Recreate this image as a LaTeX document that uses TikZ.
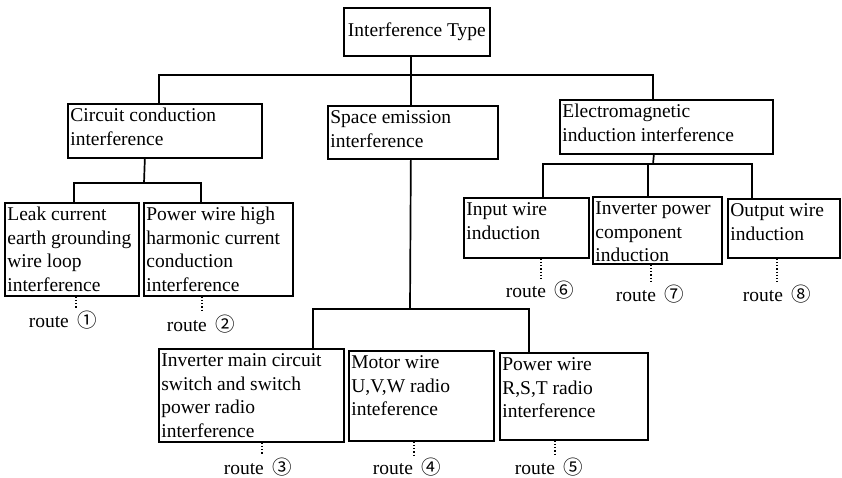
\documentclass[tikz,border=0pt]{standalone}
\usepackage{fontspec}
\setmainfont{Liberation Serif}
\newfontfamily\circfont{Noto Sans CJK SC}
\usetikzlibrary{positioning}
\newcommand{\fsz}{\fontsize{19.5}{23.5}\selectfont}
\newcommand{\boxtext}[3]{\parbox[c][\dimexpr#2pt-3pt][t]{\dimexpr#1pt-5pt}{\raggedright\strut#3}}
\newcommand{\routetext}[1]{route\hspace{0.45em}{\circfont#1}}

\begin{document}
\begin{tikzpicture}[x=1pt,y=-1pt,
box/.style={draw,line width=1.7pt,inner xsep=2.5pt,inner ysep=1.5pt,anchor=north west,font=\fsz},
route/.style={anchor=north,inner sep=0pt,text height=19pt,text depth=1pt,font=\fsz},
link/.style={line width=1.7pt},
dotline/.style={line width=1.5pt,dash pattern=on 1.3pt off 1.9pt}]
\useasboundingbox (0,0) rectangle (842,477);

\node[box,inner sep=0pt,minimum width=146pt,minimum height=48pt] (root) at (343,7) {Interference Type};
\node[box] (cc) at (67,103) {\boxtext{194}{54}{Circuit conduction\\interference}};
\node[box] (se) at (327,105) {\boxtext{170}{53}{Space emission\\interference}};
\node[box] (em) at (559,99) {\boxtext{213}{54}{Electromagnetic\\induction interference}};
\node[box] (leak) at (4,202) {\boxtext{134}{93}{Leak current\\earth grounding\\wire loop\\interference}};
\node[box] (pwh) at (143,202) {\boxtext{149}{93}{Power wire high\\harmonic current\\conduction\\interference}};
\node[box] (inv) at (158,348) {\boxtext{185}{93}{Inverter main circuit\\switch and switch\\power radio\\interference}};
\node[box] (mot) at (348,350) {\boxtext{145}{90}{Motor wire\\U,V,W radio\\inteference}};
\node[box] (pwr) at (499,352) {\boxtext{148}{87}{Power wire\\R,S,T radio\\interference}};
\node[box] (inp) at (463,197) {\boxtext{125}{60}{Input wire\\induction}};
\node[box] (ipc) at (592,196) {\boxtext{129}{67}{Inverter power\\component\\induction}};
\node[box] (out) at (727,198) {\boxtext{112}{59}{Output wire\\induction}};

\coordinate (b1) at (410,75);
\coordinate (b2) at (144,183);
\coordinate (b3) at (410,309);
\coordinate (b4) at (653,164);

\draw[link] ([xshift=-6pt]root.south) -- ([xshift=-2pt]se.north);
\draw[link] ([xshift=-6pt]cc.north) |- (b1) -| ([xshift=-13.5pt]em.north);
\draw[link] ([xshift=-20pt]cc.south) -- (b2);
\draw[link] ([xshift=2pt]leak.north) |- (b2) -| ([xshift=-17.5pt]pwh.north);
\draw[link] ([xshift=-2pt]se.south) -- (b3);
\draw[link] ([xshift=61.5pt]inv.north) |- (b3) -| ([xshift=-45pt]pwr.north);
\draw[link] ([xshift=-12.5pt]em.south) -- (b4);
\draw[link] ([xshift=16.5pt]inp.north) |- (b4) -| ([xshift=-32pt]out.north);
\draw[link] ([xshift=-9.5pt]ipc.north) -- ([xshift=-9.5pt]ipc.north |- b4);

\node[route] (r1) at (63,308) {\routetext{①}};
\node[route] (r2) at (201,312) {\routetext{②}};
\node[route] (r3) at (258,455) {\routetext{③}};
\node[route] (r4) at (407,455) {\routetext{④}};
\node[route] (r5) at (549,455) {\routetext{⑤}};
\node[route] (r6) at (540,278) {\routetext{⑥}};
\node[route] (r7) at (650,282) {\routetext{⑦}};
\node[route] (r8) at (777,282) {\routetext{⑧}};

\draw[dotline] ([xshift=4pt]leak.south) -- ([xshift=4pt]leak.south |- r1.north);
\draw[dotline] ([xshift=-16.5pt]pwh.south) -- ([xshift=-16.5pt]pwh.south |- r2.north);
\draw[dotline] ([xshift=10.5pt]inv.south) -- ([xshift=10.5pt]inv.south |- r3.north);
\draw[dotline] ([xshift=-7.5pt]mot.south) -- ([xshift=-7.5pt]mot.south |- r4.north);
\draw[dotline] ([xshift=-19pt]pwr.south) -- ([xshift=-19pt]pwr.south |- r5.north);
\draw[dotline] ([xshift=14.5pt]inp.south) -- ([xshift=14.5pt]inp.south |- r6.north);
\draw[dotline] ([xshift=-6.5pt]ipc.south) -- ([xshift=-6.5pt]ipc.south |- r7.north);
\draw[dotline] ([xshift=-7pt]out.south) -- ([xshift=-7pt]out.south |- r8.north);
\end{tikzpicture}
\end{document}
